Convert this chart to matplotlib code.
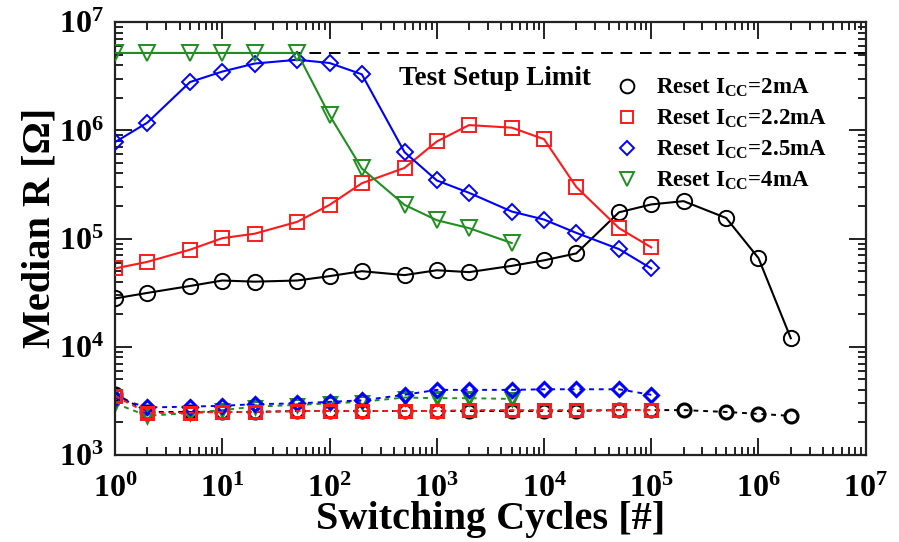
import matplotlib
matplotlib.use("Agg")
import matplotlib.pyplot as plt
from matplotlib.ticker import LogLocator, FuncFormatter, NullFormatter
import numpy as np

plt.rcParams['font.family'] = ['Liberation Serif', 'DejaVu Serif']
plt.rcParams['font.weight'] = 'bold'
plt.rcParams['mathtext.fontset'] = 'custom'
plt.rcParams['mathtext.rm'] = 'Liberation Serif:bold'
plt.rcParams['mathtext.it'] = 'Liberation Serif:bold'
plt.rcParams['mathtext.bf'] = 'Liberation Serif:bold'

# switching cycles at which the median resistance was taken
cycles = [1, 2, 5, 10, 20, 50, 100, 200, 500, 1e3, 2e3, 5e3, 1e4, 2e4, 5e4, 1e5,
          2e5, 5e5, 1e6, 2e6]

# high resistance state (solid lines)
hrs_2mA = [28e3, 31.5e3, 36.5e3, 41e3, 40e3, 41e3, 45e3, 50e3, 46e3, 51e3, 49e3,
           56e3, 63e3, 73e3, 175e3, 207e3, 222e3, 155e3, 66e3, 12e3]
hrs_2p2mA = [53e3, 61e3, 79e3, 101e3, 111e3, 143e3, 205e3, 325e3, 450e3, 790e3,
             1.12e6, 1.06e6, 830e3, 300e3, 125e3, 83e3]
hrs_2p5mA = [780e3, 1.18e6, 2.8e6, 3.5e6, 4.15e6, 4.5e6, 4.2e6, 3.3e6, 630e3, 345e3,
             265e3, 178e3, 150e3, 113e3, 80e3, 53e3]
hrs_4mA = [5.2e6, 5.2e6, 5.2e6, 5.2e6, 5.2e6, 5.2e6, 1.38e6, 445e3, 205e3, 148e3,
           125e3, 91e3]

# low resistance state (dashed lines)
lrs_2mA = [3.7e3, 2.5e3, 2.5e3, 2.5e3, 2.5e3, 2.55e3, 2.55e3, 2.55e3, 2.55e3, 2.55e3,
           2.55e3, 2.55e3, 2.55e3, 2.55e3, 2.6e3, 2.6e3, 2.6e3, 2.5e3, 2.4e3, 2.3e3]
lrs_2p2mA = [3.5e3, 2.45e3, 2.45e3, 2.5e3, 2.5e3, 2.55e3, 2.55e3, 2.55e3, 2.55e3,
             2.55e3, 2.6e3, 2.6e3, 2.6e3, 2.6e3, 2.6e3, 2.6e3]
lrs_2p5mA = [3.4e3, 2.75e3, 2.8e3, 2.85e3, 2.95e3, 3.0e3, 3.1e3, 3.2e3, 3.6e3, 4.0e3,
             4.0e3, 4.0e3, 4.05e3, 4.05e3, 4.05e3, 3.6e3]
lrs_4mA = [3.0e3, 2.3e3, 2.45e3, 2.6e3, 2.8e3, 2.9e3, 3.0e3, 3.1e3, 3.4e3, 3.35e3,
           3.35e3, 3.3e3]

setup_limit = 5.2e6

labels = [r'Reset I$_{\mathrm{CC}}$=2mA', r'Reset I$_{\mathrm{CC}}$=2.2mA',
          r'Reset I$_{\mathrm{CC}}$=2.5mA', r'Reset I$_{\mathrm{CC}}$=4mA']
colors = ['black', '#ff1a1a', '#0000ff', '#1f8f1f']
markers = ['o', 's', 'D', 'v']
sizes = [11, 10, 8, 11]

hrs = [hrs_2mA, hrs_2p2mA, hrs_2p5mA, hrs_4mA]
lrs = [lrs_2mA, lrs_2p2mA, lrs_2p5mA, lrs_4mA]

fig = plt.figure(figsize=(8.99, 5.42), dpi=100)
ax = fig.add_axes([0.128, 0.1605, 0.835, 0.7985])

ax.axhline(setup_limit, color='black', lw=1.4, ls=(0, (6, 4)), zorder=1)

# LRS first so the HRS curves sit on top
for order, i in enumerate([0, 3, 2, 1]):
    x = cycles[:len(lrs[i])]
    ax.plot(x, lrs[i], color=colors[i], ls=(0, (2.5, 2.5)), lw=1.4,
            marker=markers[i], ms=sizes[i] * 0.85, mfc='none', mew=2.2,
            mec=colors[i], zorder=2 + order * 0.1)

for i in range(4):
    x = cycles[:len(hrs[i])]
    ax.plot(x, hrs[i], color=colors[i], lw=1.5, marker=markers[i],
            ms=sizes[i], mfc='none', mew=1.4, mec=colors[i], label=labels[i],
            zorder=3)

ax.set_xscale('log')
ax.set_yscale('log')
ax.set_xlim(1, 1e7)
ax.set_ylim(1e3, 1e7)

fmt = FuncFormatter(lambda v, p: r'$\mathrm{10^{%d}}$' % int(round(np.log10(v))))
for axis in (ax.xaxis, ax.yaxis):
    axis.set_major_locator(LogLocator(base=10, numticks=20))
    axis.set_minor_locator(LogLocator(base=10, subs=np.arange(2, 10), numticks=20))
    axis.set_major_formatter(fmt)
    axis.set_minor_formatter(NullFormatter())

ax.tick_params(which='both', direction='in', top=True, right=True, labelsize=23,
               width=1.4, color='#222222')
ax.tick_params(which='major', length=12)
ax.tick_params(which='minor', length=6)
ax.tick_params(axis='x', which='major', pad=14)
ax.tick_params(axis='y', which='major', pad=8)
for s in ax.spines.values():
    s.set_linewidth(1.6)
    s.set_color('#222222')

ax.set_xlabel('Switching Cycles [#]', fontsize=29, fontweight='bold', labelpad=-2)
ax.set_ylabel('Median R [Ω]', fontsize=29, fontweight='bold', labelpad=0)
ax.yaxis.set_label_coords(-0.075, 0.524)

ax.text(440, 3.0e6, 'Test Setup Limit', fontsize=19.5, fontweight='bold',
        va='center', ha='left')

ax.legend(handles=[plt.Line2D([], [], ls='none', marker=markers[i], ms=sizes[i] * 0.9,
                              mfc='none', mec=colors[i], mew=1.4) for i in range(4)],
          labels=labels, loc='upper left', bbox_to_anchor=(0.655, 0.895),
          frameon=False, fontsize=16.5, handlelength=1.0, handletextpad=0.75,
          labelspacing=0.38, borderaxespad=0)

fig.savefig('out.png', dpi=100)
